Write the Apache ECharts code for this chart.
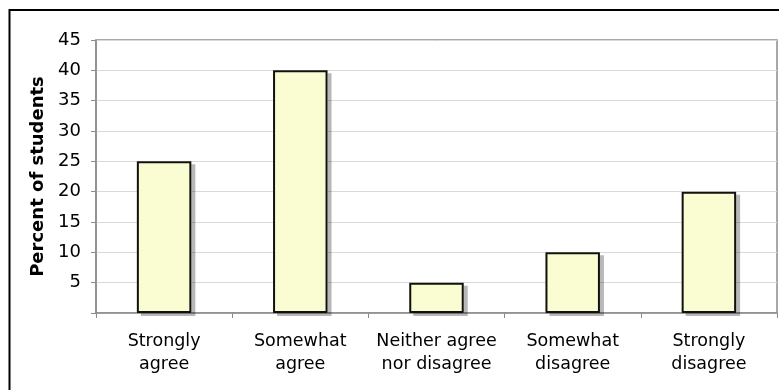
<!DOCTYPE html>
<html>
<head>
<meta charset="utf-8">
<script src="https://cdn.jsdelivr.net/npm/echarts@6/dist/echarts.min.js"></script>
<style>
  html, body { margin: 0; padding: 0; background: #fff; }
  #chart { width: 779px; height: 390px; }
</style>
</head>
<body>
<div id="chart"></div>
<script>
const categories = [
  "Strongly\nagree",
  "Somewhat\nagree",
  "Neither agree\nnor disagree",
  "Somewhat\ndisagree",
  "Strongly\ndisagree",
];
const percents = [25, 40, 5, 10, 20];
const yTicks = { min: 0, max: 45, interval: 5 };

const chart = echarts.init(document.getElementById("chart"));

chart.setOption({
  backgroundColor: "#fff",
  animation: false,
  textStyle: { fontFamily: "DejaVu Sans" },
  graphic: [
    {
      type: "rect",
      shape: { x: 9.5, y: 10, width: 800, height: 400 },
      style: { fill: "none", stroke: "#000", lineWidth: 2 },
    },
  ],
  grid: {
    left: 96,
    top: 40,
    right: 2,
    bottom: 77,
    show: true,
    borderColor: "#8c8c8c",
    borderWidth: 1.5,
  },
  xAxis: {
    type: "category",
    data: categories,
    axisLine: { lineStyle: { color: "#8c8c8c", width: 1.5 } },
    axisTick: { show: true, length: 5, lineStyle: { color: "#8c8c8c" } },
    axisLabel: {
      color: "#000",
      fontSize: 17.5,
      lineHeight: 23,
      margin: 17,
      interval: 0,
    },
  },
  yAxis: {
    type: "value",
    min: yTicks.min,
    max: yTicks.max,
    interval: yTicks.interval,
    name: "Percent of students",
    nameLocation: "middle",
    nameGap: 47,
    nameTextStyle: { color: "#000", fontSize: 18, fontWeight: "bold" },
    axisLine: { show: true, lineStyle: { color: "#8c8c8c", width: 1.5 } },
    axisTick: { show: true, length: 5, lineStyle: { color: "#8c8c8c" } },
    axisLabel: {
      color: "#000",
      fontSize: 18,
      margin: 15,
      formatter: (v) => (v === 0 ? "" : String(v)),
    },
    splitLine: { lineStyle: { color: "#d9d9d9", width: 1 } },
  },
  series: [
    {
      // fill + drop shadow
      type: "bar",
      data: percents,
      barWidth: "40%",
      itemStyle: {
        color: "#fafdd2",
        shadowColor: "rgba(0,0,0,0.28)",
        shadowOffsetX: 4,
        shadowOffsetY: 3,
        shadowBlur: 0,
      },
    },
    {
      // outline on top
      type: "bar",
      data: percents,
      barWidth: "40%",
      barGap: "-100%",
      itemStyle: {
        color: "rgba(0,0,0,0)",
        borderColor: "#111",
        borderWidth: 2,
      },
    },
  ],
});
</script>
</body>
</html>
